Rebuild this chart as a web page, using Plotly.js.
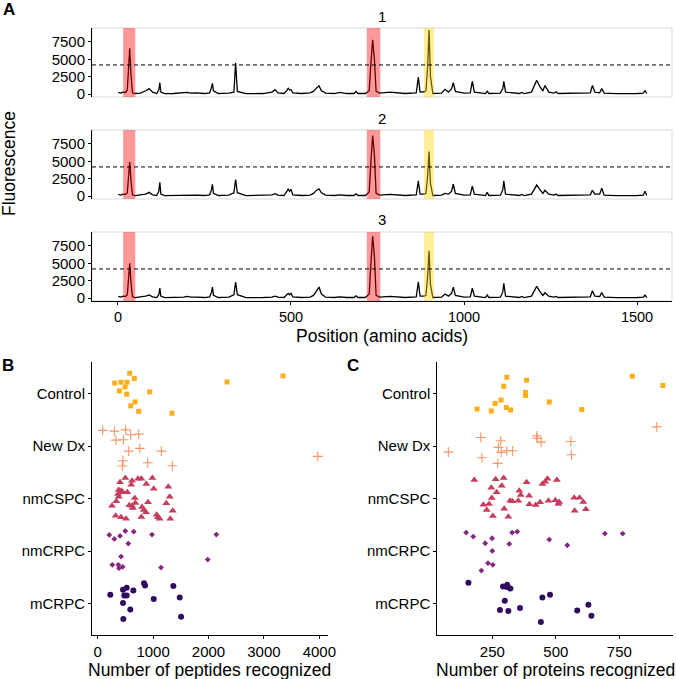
<!DOCTYPE html>
<html>
<head>
<meta charset="utf-8">
<script src="https://cdn.plot.ly/plotly-3.0.1.min.js"></script>
<style>body{margin:0;background:#fff}#chart{width:676px;height:679px}</style>
</head>
<body>
<div id="chart"></div>
<script>
// ---- panel A: fluorescence along the protein, three replicates ----
var positions = [1,8,15,22,27,30,34,38,42,50,
  65,80,90,100,112,118,121,124,135,160,
  190,200,210,225,250,265,270,273,276,290,
  320,335,340,345,370,420,445,454,462,480,
  488,492,496,500,505,530,555,565,572,581,
  588,600,625,642,660,682,688,694,715,726,
  731,736,741,746,756,786,830,862,868,873,
  885,890,895,899,903,910,935,945,955,964,
  969,975,1000,1018,1024,1030,1062,1067,1072,1105,
  1112,1115,1120,1160,1167,1174,1195,1210,1220,1228,
  1234,1245,1260,1266,1272,1300,1365,1371,1378,1392,
  1398,1405,1440,1500,1518,1523,1528];
var fluor1 = [250,150,300,250,600,3000,6600,2500,200,100,
  150,500,800,300,100,600,1650,300,80,100,
  150,250,150,200,100,200,900,1550,500,100,
  150,300,4500,400,80,100,300,650,200,100,
  500,900,600,650,200,100,200,400,800,1200,
  500,150,100,250,100,100,400,100,100,500,
  4500,7800,5000,400,150,300,100,200,2450,300,
  350,500,4000,9200,2500,100,150,700,300,800,
  1650,400,150,200,1850,300,100,450,100,150,
  800,1850,300,100,250,100,300,2000,1000,500,
  1250,300,150,350,100,100,200,1250,300,200,
  800,150,80,100,150,500,100];
var fluor2 = [250,150,300,250,500,2200,4900,2000,200,100,
  150,300,550,200,100,700,2000,300,80,100,
  150,200,150,150,100,200,900,1700,400,100,
  150,500,2400,500,80,100,200,370,150,100,
  600,1000,700,1000,200,100,150,400,800,1060,
  500,150,100,200,100,100,350,100,100,600,
  5000,8700,6000,400,150,250,100,200,2200,300,
  300,400,3000,6400,1800,100,150,400,300,700,
  1750,400,150,200,1450,300,100,550,100,150,
  900,2200,300,100,250,100,300,1600,900,400,
  850,300,150,300,100,100,200,850,300,300,
  1150,150,80,100,150,700,100];
var fluor3 = [250,150,300,250,500,2300,5000,2000,200,100,
  150,300,460,200,100,500,1450,300,80,100,
  150,250,150,150,100,200,800,1600,400,100,
  150,500,2300,500,80,100,150,300,150,100,
  500,700,500,700,200,100,150,400,900,1600,
  600,150,100,200,100,100,350,100,100,600,
  5000,8900,6000,400,150,250,100,200,2350,300,
  300,400,3200,6800,1900,100,150,600,300,700,
  1600,400,150,200,1430,300,100,460,100,150,
  900,2150,300,100,250,100,300,1700,900,400,
  780,300,150,250,100,100,200,1060,300,250,
  830,150,80,100,150,460,100];
var threshold = 4200;
var bandStart = [15, 719, 884];
var bandEnd = [50, 758, 913];
var bandFill = ['rgba(255,0,0,0.4)', 'rgba(255,0,0,0.4)', 'rgba(255,215,0,0.42)'];

// ---- panels B and C: recognition per patient group ----
var groups = ['mCRPC', 'nmCRPC', 'nmCSPC', 'New Dx', 'Control'];

var pepControl = [578,661,307,421,529,493,390,523,939,673,596,740,1341,2334,3345];
var pepJitControl = [.386,.285,.20,.215,.215,.125,.05,-.013,.03,-.16,-.236,-.34,-.375,.22,.335];
var pepNewDx = [90,300,505,596,740,330,462,560,758,1148,457,444,903,1347,3971];
var pepJitNewDx = [.297,.283,.308,.213,.226,.112,.118,-.097,-.046,-.097,-.281,-.382,-.319,-.376,-.198];
var pepCSPC = [498,619,727,787,986,403,606,877,1274,1011,379,426,408,451,534,366,379,1300,668,336,
  679,908,1238,258,570,619,800,632,830,872,1354,325,1065,421,511,787,1088,1119,1310];
var pepJitCSPC = [.39,.338,.376,.376,.39,.308,.262,.276,.224,.186,.162,.148,.118,.124,.118,.086,.034,.034,.01,-.053,
  -.086,-.072,-.091,-.137,-.129,-.137,-.162,-.181,-.219,-.262,-.232,-.327,-.308,-.357,-.384,-.352,-.357,-.384,-.384];
var pepCRPC = [209,300,403,498,650,980,552,2141,421,1986,264,372,384,451,1143];
var pepJitCRPC = [.306,.23,.287,.382,.369,.312,.141,.312,-.106,-.163,-.264,-.264,-.327,-.302,-.316];
var pepMCRPC = [836,854,1365,457,523,643,227,480,523,1011,1480,457,588,462,1504];
var pepJitMCRPC = [.388,.342,.331,.26,.298,.247,.165,.152,.152,.084,.114,.008,-.114,-.297,-.253];

var protControl = [307,385,295,381,381,284,261,190,246,305,322,474,602,801,921];
var protJitControl = [.31,.253,.139,.019,-.038,-.122,-.19,-.293,-.331,-.266,-.312,-.16,-.304,.329,.152];
var protNewDx = [205,283,425,427,442,559,77,274,285,307,330,209,561,271,897];
var protJitNewDx = [.163,.099,.194,.15,.074,.087,-.116,-.027,-.122,-.091,-.091,-.224,-.167,-.331,.365];
var protCSPC = [179,263,295,246,287,267,385,447,458,467,504,356,362,248,395,215,237,320,329,352,
  396,421,438,471,498,513,510,572,593,608,228,297,252,313,574,618];
var protJitCSPC = [.352,.365,.39,.205,.243,.118,.308,.276,.319,.376,.352,.148,.067,.01,.053,-.118,-.105,-.042,-.053,-.042,
  -.11,-.124,-.072,-.042,-.034,-.067,-.105,.015,.015,-.067,-.219,-.194,-.333,-.346,-.232,-.205];
var protCRPC = [147,175,249,222,328,348,317,250,474,545,693,763,233,252,207];
var protJitCRPC = [.35,.274,.243,.148,.35,.369,.135,.002,.217,.11,.331,.331,-.232,-.264,-.373];
var protMCRPC = [156,292,309,307,321,299,280,313,359,447,477,441,584,628,640];
var protJitMCRPC = [.395,.323,.355,.312,.285,.051,-.125,-.144,-.087,.114,.165,-.354,-.133,-.025,-.234];

var W = 676, H = 679;
function fx(p) { return p / W; }
function fy(p) { return 1 - p / H; }
var FONT = 'Liberation Sans, Arial, Helvetica, sans-serif';

var data = [];
var profiles = [fluor1, fluor2, fluor3];
profiles.forEach(function (vals, i) {
  var s = i === 0 ? '' : String(i + 1);
  data.push({x: positions, y: vals, xaxis: 'x' + s, yaxis: 'y' + s, mode: 'lines',
    line: {color: '#000', width: 1.3}, hoverinfo: 'skip', showlegend: false});
});

function pts(xv, jit, gi, s, symbol, size, color, open) {
  return {
    x: xv, y: jit.map(function (j) { return gi + 1 + j; }),
    xaxis: 'x' + s, yaxis: 'y' + s, mode: 'markers', hoverinfo: 'skip', showlegend: false,
    marker: {symbol: symbol, size: size, color: color, opacity: open ? 0.85 : 1,
      line: {color: color, width: open ? 1.1 : 0}}
  };
}
var cols = ['#2f0b5f', '#852780', '#c73d5d', '#f7824b', '#fbae17'];
[[pepMCRPC, pepJitMCRPC, pepCRPC, pepJitCRPC, pepCSPC, pepJitCSPC, pepNewDx, pepJitNewDx, pepControl, pepJitControl, '4'],
 [protMCRPC, protJitMCRPC, protCRPC, protJitCRPC, protCSPC, protJitCSPC, protNewDx, protJitNewDx, protControl, protJitControl, '5']]
.forEach(function (p) {
  var s = p[10];
  data.push(pts(p[0], p[1], 0, s, 'circle', 6, cols[0]));
  data.push(pts(p[2], p[3], 1, s, 'diamond', 4.5, cols[1]));
  data.push(pts(p[4], p[5], 2, s, 'triangle-up', 7, cols[2]));
  data.push(pts(p[6], p[7], 3, s, 'cross-thin-open', 7, cols[3], true));
  data.push(pts(p[8], p[9], 4, s, 'square', 5, cols[4]));
});

function ax(extra) {
  return Object.assign({showgrid: false, zeroline: false, ticks: 'outside', ticklen: 3, tickwidth: 1,
    tickcolor: '#000', showline: true, linecolor: '#000', linewidth: 1, fixedrange: true,
    tickfont: {family: FONT, size: 15, color: '#000'}}, extra);
}

var layout = {
  width: W, height: H, margin: {l: 0, r: 0, t: 0, b: 0},
  paper_bgcolor: '#fff', plot_bgcolor: '#fff', font: {family: FONT, color: '#000'},
  showlegend: false, shapes: [], annotations: []
};

var aTops = [28, 130, 232], aBottoms = [97, 199, 301];
for (var i = 0; i < 3; i++) {
  var s = i === 0 ? '' : String(i + 1);
  layout['xaxis' + s] = ax({domain: [fx(92), fx(672)], anchor: 'y' + s, range: [-75, 1601],
    tickvals: [0, 500, 1000, 1500], showticklabels: i === 2, ticks: i === 2 ? 'outside' : '',
    showline: i === 2, tickfont: {family: FONT, size: 14.5, color: '#000'}});
  layout['yaxis' + s] = ax({domain: [fy(aBottoms[i]), fy(aTops[i])], anchor: 'x' + s,
    range: [-400, 9500], tickvals: [0, 2500, 5000, 7500]});
  layout.shapes.push({type: 'rect', xref: 'x' + s + ' domain', yref: 'y' + s + ' domain',
    x0: 0, x1: 1, y0: 0, y1: 1, line: {color: '#d9d9d9', width: 1}, layer: 'below'});
  for (var b = 0; b < bandStart.length; b++) {
    layout.shapes.push({type: 'rect', xref: 'x' + s, yref: 'y' + s + ' domain',
      x0: bandStart[b], x1: bandEnd[b], y0: 0, y1: 1, fillcolor: bandFill[b], line: {width: 0}, layer: 'above'});
  }
  layout.shapes.push({type: 'line', xref: 'x' + s + ' domain', yref: 'y' + s, x0: 0, x1: 1,
    y0: threshold, y1: threshold, line: {color: '#000', width: 1, dash: '4px,3px'}});
  layout.annotations.push({text: String(i + 1), xref: 'paper', yref: 'paper', x: fx(382), y: fy(aTops[i] - 12),
    xanchor: 'center', yanchor: 'middle', showarrow: false, font: {size: 15, color: '#000'}});
}

layout.xaxis4 = ax({domain: [fx(92), fx(328)], anchor: 'y4', range: [-103, 4156], tickvals: [0, 1000, 2000, 3000, 4000]});
layout.yaxis4 = ax({domain: [fy(635), fy(362)], anchor: 'x4', range: [0.4, 5.6], tickvals: [1, 2, 3, 4, 5], ticktext: groups});
layout.xaxis5 = ax({domain: [fx(437.3), fx(673)], anchor: 'y5', range: [33.5, 961], tickvals: [250, 500, 750]});
layout.yaxis5 = ax({domain: [fy(635), fy(362)], anchor: 'x5', range: [0.4, 5.6], tickvals: [1, 2, 3, 4, 5], ticktext: groups});

function note(text, x, y, size, extra) {
  layout.annotations.push(Object.assign({text: text, xref: 'paper', yref: 'paper', x: fx(x), y: fy(y),
    xanchor: 'center', yanchor: 'middle', showarrow: false, font: {size: size, color: '#000'}}, extra || {}));
}
note('<b>A</b>', 9, 10, 17);
note('<b>B</b>', 8, 365, 17);
note('<b>C</b>', 353, 365, 17);
note('Fluorescence', 9, 164, 17.5, {textangle: -90});
note('Position (amino acids)', 382, 335.5, 17.5);
note('Number of peptides recognized', 210, 669.5, 17.5);
note('Number of proteins recognized', 555.5, 669.5, 17.5);

Plotly.newPlot('chart', data, layout, {displayModeBar: false, staticPlot: true});
</script>
</body>
</html>
